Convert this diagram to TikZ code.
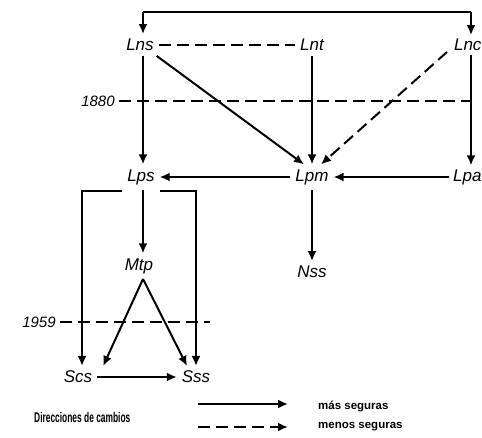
\documentclass[tikz,border=0pt]{standalone}
\usepackage{fontspec}
\setsansfont{Liberation Sans}
\usetikzlibrary{arrows.meta,calc}
\begin{document}
\begin{tikzpicture}[x=1pt,y=-1pt,
  lbl/.style={font=\sffamily\itshape\fontsize{17}{17}\selectfont, inner sep=1pt, outer sep=4pt},
  yr/.style={font=\sffamily\itshape\fontsize{15}{15}\selectfont, inner sep=1pt},
  leg/.style={font=\sffamily\bfseries\fontsize{11.5}{12}\selectfont, inner sep=1pt, anchor=west},
  conn/.style={line width=2pt},
  tip/.style={-{Latex[length=10pt,width=9pt]}},
  arr/.style={conn, tip},
  dsh/.style={conn, dash pattern=on 12pt off 6pt}]
\useasboundingbox[fill=white] (0,0) rectangle (482,437);
% nodes
\node[lbl] (lns) at (140,45) {Lns};
\node[lbl] (lnt) at (312,45) {Lnt};
\node[lbl,anchor=east,inner sep=0pt,outer sep=0pt] (lnc) at (481.5,45) {Lnc};
\node[lbl] (lps) at (141,177) {Lps};
\node[lbl] (lpm) at (312,177) {Lpm};
\node[lbl,anchor=east,inner sep=0pt,outer sep=0pt] (lpa) at (481.5,177) {Lpa};
\node[lbl] (nss) at (312,272) {Nss};
\node[lbl] (mtp) at (139,266) {Mtp};
\node[lbl] (scs) at (78,377) {Scs};
\node[lbl] (sss) at (196,377) {Sss};
\node[yr] (y1880) at (98,101) {1880};
\node[yr] (y1959) at (39,322) {1959};
\coordinate (tl) at (143,12);
\coordinate (tr) at (471,12);
% top bracket
\draw[conn] (tl) -- (tr);
\draw[arr] (tl) -- (tl |- lns.north);
\draw[arr,shorten >=4pt] (tr) -- (tr |- lnc.north);
% top links
\draw[dsh] (lns.east) -- (lnt.west);
\draw[arr] (tl |- lns.south) -- (tl |- lps.north);
\draw[arr] ([xshift=-2pt]lns.south east) -- ([xshift=-8pt]lpm.north);
\draw[arr] (lnt) -- (lpm);
\draw[dsh,tip] ([xshift=-7pt,yshift=-1pt]lnc.south west) -- ([xshift=9pt]lpm.north);
\draw[arr,shorten <=4pt,shorten >=4pt] (tr |- lnc.south) -- (tr |- lpa.north);
% 1880
\draw[dsh] (y1880.east) ++(3,0) -- (470,101);
% middle row
\draw[arr] (lpm) -- (lps);
\draw[arr,shorten <=4pt] (lpa) -- (lpm);
\draw[arr] (lpm) -- (nss);
\draw[arr] (lps.south -| tl) -- (mtp.north -| tl);
% brackets from Lps
\draw[arr] (122,191) -| ([xshift=4pt]scs.north);
\draw[arr] (160,191) -| (sss.north);
% Mtp triangle
\coordinate (apex) at (143,279);
\draw[arr] (apex) -- ([xshift=6pt]scs.north east);
\draw[arr] (apex) -- ([xshift=-9pt]sss.north);
% 1959
\draw[dsh] (y1959.east) ++(3,0) -- (210,322);
% Scs -> Sss
\draw[arr] (scs) -- (sss);
% legend
\node[leg,font=\sffamily\bfseries\fontsize{14}{14}\selectfont] (dir) at (33,417) {\scalebox{0.6}[1]{Direcciones de cambios}};
\node[leg] (mas) at (317,406) {más seguras};
\node[leg] (men) at (317,427) {menos seguras};
\coordinate (l1) at (198,404);
\coordinate (l2) at (198,427);
\draw[arr] (l1) -- (288,404);
\draw[dsh,tip] (l2) -- (288,427);
\end{tikzpicture}
\end{document}
